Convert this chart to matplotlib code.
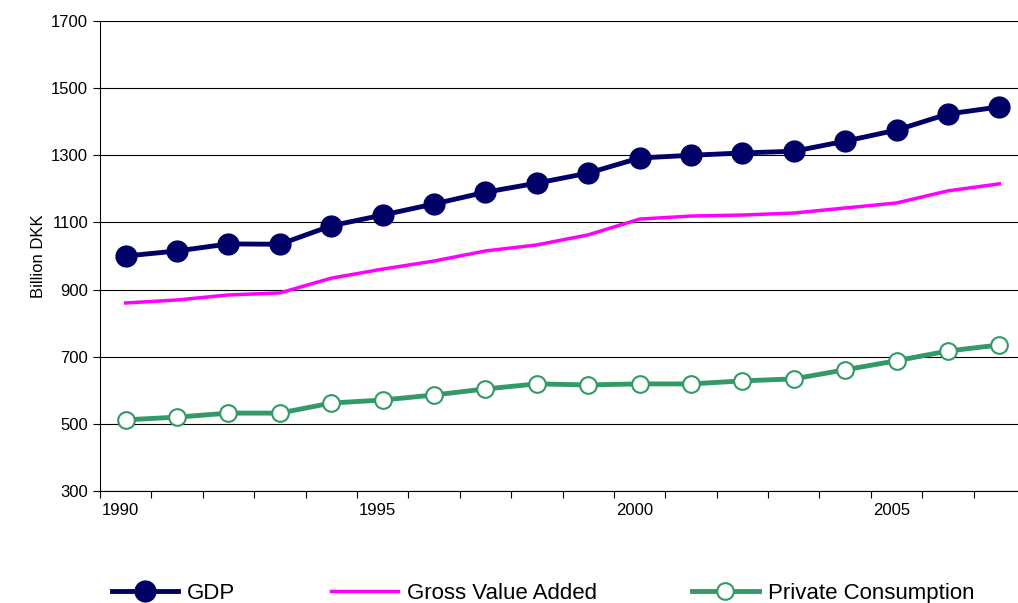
import matplotlib.pyplot as plt
import numpy as np

years = list(range(1990, 2008))
gdp = [1000, 1015, 1036, 1035, 1090, 1122, 1155, 1190, 1217, 1247, 1292, 1300, 1307, 1312, 1342, 1375, 1423, 1444]
gva = [860, 869, 884, 890, 934, 961, 985, 1015, 1033, 1063, 1110, 1119, 1122, 1128, 1143, 1158, 1194, 1215]
pc = [512, 520, 532, 532, 562, 571, 586, 604, 619, 616, 619, 619, 628, 634, 661, 688, 717, 735]

plt.rcParams['font.family'] = ['Liberation Sans', 'DejaVu Sans']
fig = plt.figure(figsize=(10.18, 6.03), dpi=100)
ax = fig.add_axes([100/1018, 112/603, 925/1018, 470/603])

x = np.arange(len(years))
ax.plot(x, gdp, color='#000066', lw=3.5, marker='o', ms=15, label='GDP', clip_on=False)
ax.plot(x, gva, color='#FF00FF', lw=2.5, label='Gross Value Added')
ax.plot(x, pc, color='#339966', lw=3.5, marker='o', ms=12, mfc='white', mec='#339966', mew=1.5,
        label='Private Consumption', clip_on=False)

ax.set_xlim(-0.5, len(years) - 0.5)
ax.set_ylim(300, 1700)
ax.set_yticks(range(300, 1701, 200))
ax.yaxis.grid(True, color='black', lw=0.8)
ax.set_axisbelow(True)
ax.set_xticks(np.arange(-0.5, len(years)), minor=False)
ax.set_xticklabels([])
ax.tick_params(axis='x', direction='out', length=5)
for i, yr in enumerate(years):
    if yr % 5 == 0:
        ax.text(i - 0.1, 300 - 35, str(yr), ha='center', va='top', fontsize=12)
ax.tick_params(axis='y', labelsize=12, length=5)
ax.set_ylabel('Billion DKK', fontsize=12)
for s in ['top', 'right']:
    ax.spines[s].set_visible(False)

fig.legend(loc='lower left', ncol=3, frameon=False, fontsize=16, bbox_to_anchor=(0.09, -0.035),
           handlelength=3.0, handletextpad=0.4, columnspacing=4.3)
fig.savefig('out.png', dpi=100)
